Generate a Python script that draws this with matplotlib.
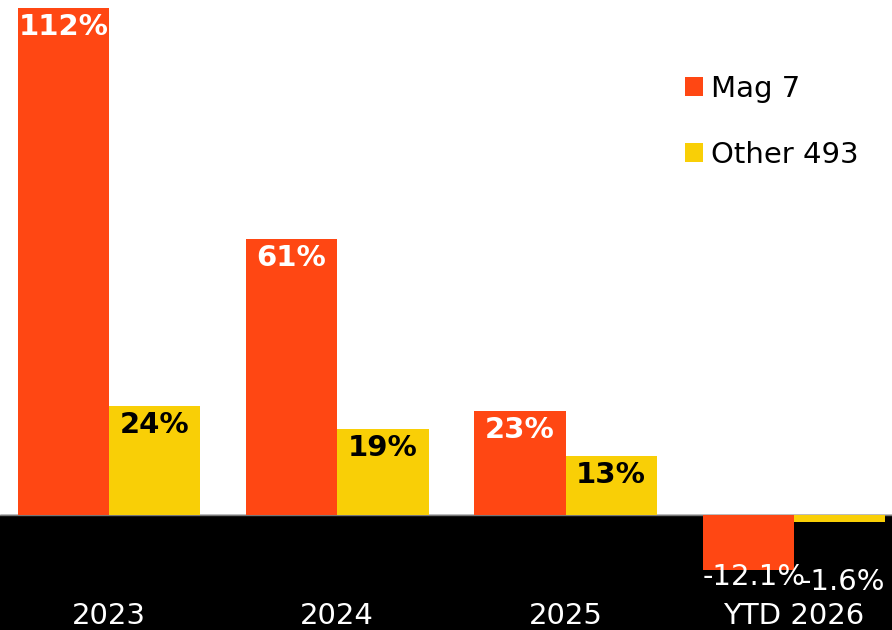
import matplotlib.pyplot as plt
import numpy as np

categories = ['2023', '2024', '2025', 'YTD 2026']
mag7 = [112, 61, 23, -12.1]
other493 = [24, 19, 13, -1.6]
mag7_labels = ['112%', '61%', '23%', '-12.1%']
other_labels = ['24%', '19%', '13%', '-1.6%']

ORANGE = '#FF4713'
YELLOW = '#F9CF06'

plt.rcParams['font.family'] = ['DejaVu Sans']

fig = plt.figure(figsize=(8.92, 6.30), dpi=100)
ax = fig.add_axes([0, 0, 1, 1])

x = np.arange(len(categories))
w = 0.4
ax.set_xlim(-0.477, 3.43)
ax.set_ylim(-25.4, 113.8)

# black band below zero
ax.axhspan(-30, 0, color='black', zorder=0)
ax.axhline(0, color='#777777', lw=1, zorder=1)

ax.bar(x - w / 2, mag7, w, color=ORANGE, label='Mag 7', zorder=2)
ax.bar(x + w / 2, other493, w, color=YELLOW, label='Other 493', zorder=2)

fs = 21
off = 19 / 4.527  # about 19px below bar top
for xi, v, lab in zip(x - w / 2, mag7, mag7_labels):
    if v > 0:
        ax.text(xi, v - off, lab, ha='center', va='center', color='white',
                fontsize=fs, fontweight='bold', zorder=3)
    else:
        ax.text(xi - w / 2, -13.7, lab, ha='left', va='center', color='white',
                fontsize=fs, zorder=3)
for xi, v, lab in zip(x + w / 2, other493, other_labels):
    if v > 0:
        ax.text(xi, v - off, lab, ha='center', va='center', color='black',
                fontsize=fs, fontweight='bold', zorder=3)
    else:
        ax.text(xi + w / 2, -14.8, lab, ha='right', va='center', color='white',
                fontsize=fs, zorder=3)

for xi, c in zip(x, categories):
    ax.text(xi, -22.4, c, ha='center', va='center', color='white', fontsize=fs, zorder=3)

ax.legend(loc='upper left', bbox_to_anchor=(0.755, 0.9), frameon=False,
          fontsize=fs, handlelength=0.6, handleheight=0.6, handletextpad=0.3,
          labelspacing=1.3, borderaxespad=0)

ax.axis('off')
fig.savefig('out.png', dpi=100)
